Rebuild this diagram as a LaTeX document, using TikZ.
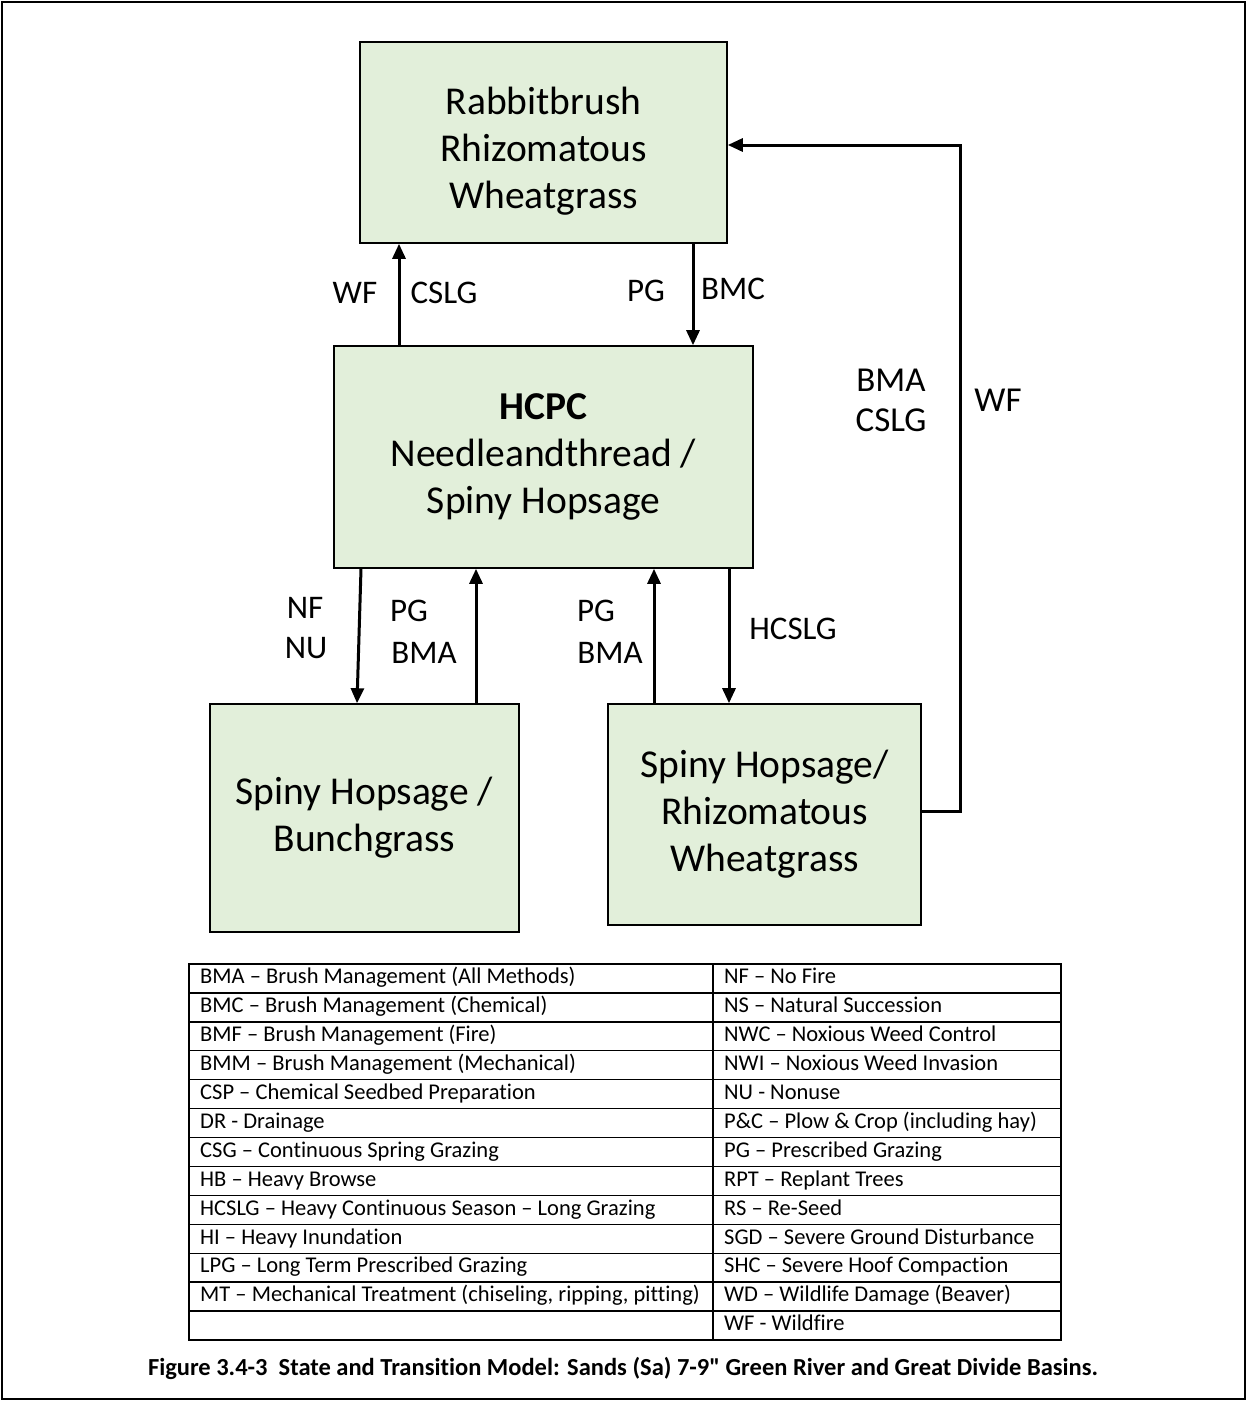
\documentclass[tikz,border=0pt]{standalone}
\usepackage{fontspec}
\setmainfont{Carlito}[Ligatures={TeXOff,NoCommon}]
\usetikzlibrary{arrows.meta}
\definecolor{statefill}{HTML}{E2EFDA}
\begin{document}
\begin{tikzpicture}[x=1pt,y=-1pt,
  statebox/.style={draw, line width=1.6pt, fill=statefill, inner sep=0pt},
  statetext/.style={align=center, font=\fontsize{39.5}{47}\selectfont},
  arr/.style={line width=3pt, -{Triangle[length=15pt,width=13pt]}},
  lbl/.style={font=\fontsize{33}{38}\selectfont, inner sep=0pt},
  lblw/.style={font=\fontsize{35}{40}\selectfont, inner sep=0pt},
  cell/.style={anchor=west, font=\fontsize{22.5}{26}\selectfont, inner sep=0pt},
  tline/.style={line width=1.4pt}]
\useasboundingbox (0,0) rectangle (1247,1401);
\draw[line width=1.4pt] (2,2) rectangle (1245,1399);

% states
\node[statebox, minimum width=367pt, minimum height=201pt] (top) at (543.5,142.5) {};
\node[statetext] (toptext) at (543.5,151) {Rabbitbrush\\Rhizomatous\\Wheatgrass};
\node[statebox, statetext, minimum width=419pt, minimum height=222pt] (hcpc) at (543.5,457)
  {\textbf{HCPC}\\Needleandthread /\\Spiny Hopsage};
\node[statebox, statetext, minimum width=309pt, minimum height=228pt] (bl) at (364.5,818)
  {Spiny Hopsage /\\Bunchgrass};
\node[statebox, statetext, minimum width=313pt, minimum height=221pt] (br) at (764.5,814.5)
  {Spiny Hopsage/\\Rhizomatous\\Wheatgrass};

% transition columns
\coordinate (c1) at (399,0);
\coordinate (c2) at (693,0);
\coordinate (c3a) at (361,0);
\coordinate (c3b) at (357,0);
\coordinate (c4) at (476,0);
\coordinate (c5) at (654,0);
\coordinate (c6) at (729,0);
\coordinate (r1) at (0,811);
\coordinate (r2) at (0,145);
\coordinate (bend1) at (960,811);
\coordinate (bend2) at (960,145);

\draw[arr] (hcpc.north -| c1) -- (top.south -| c1);
\draw[arr] (top.south -| c2) -- (hcpc.north -| c2);
\draw[arr] (hcpc.south -| c3a) -- (bl.north -| c3b);
\draw[arr] (bl.north -| c4) -- (hcpc.south -| c4);
\draw[arr] (br.north -| c5) -- (hcpc.south -| c5);
\draw[arr] (hcpc.south -| c6) -- (br.north -| c6);
\draw[arr, line join=miter] (br.east |- r1) -- (bend1) -- (bend2) -- (top.east |- r2);

% transition labels
\node[lbl] (l1) at (355,293) {WF};
\node[lbl] (l2) at (444,293) {CSLG};
\node[lbl] (l3) at (646,291) {PG};
\node[lbl] (l4) at (733,289) {BMC};
\node[lbl] (l5) at (305,608) {NF};
\node[lbl] (l6) at (306,648) {NU};
\node[lbl] (l7) at (409,611) {PG};
\node[lbl] (l8) at (424,653) {BMA};
\node[lbl] (l9) at (596,611) {PG};
\node[lbl] (l10) at (610,653) {BMA};
\node[lbl] (l11) at (793,629) {HCSLG};
\node[lblw] (l12) at (891,380) {BMA};
\node[lblw] (l13) at (891,420) {CSLG};
\node[lblw] (l14) at (998,400) {WF};

% legend table
\draw[tline] (189,964) rectangle (1061,1340);
\draw[tline] (713,964) -- (713,1340);
\foreach \i in {1,...,12} {
  \draw[tline] (189,964+28.923*\i) -- (1061,964+28.923*\i);
}
\foreach \t [count=\i from 0] in {%
  BMA – Brush Management (All Methods),
  BMC – Brush Management (Chemical),
  BMF – Brush Management (Fire),
  BMM – Brush Management (Mechanical),
  CSP – Chemical Seedbed Preparation,
  DR - Drainage,
  CSG – Continuous Spring Grazing,
  HB – Heavy Browse,
  HCSLG – Heavy Continuous Season – Long Grazing,
  HI – Heavy Inundation,
  LPG – Long Term Prescribed Grazing,
  {MT – Mechanical Treatment (chiseling, ripping, pitting)}} {
  \node[cell] (lt\i) at (200,978.5+28.923*\i) {\strut\t};
}
\foreach \t [count=\i from 0] in {%
  NF – No Fire,
  NS – Natural Succession,
  NWC – Noxious Weed Control,
  NWI – Noxious Weed Invasion,
  NU - Nonuse,
  P\&C – Plow \& Crop (including hay),
  PG – Prescribed Grazing,
  RPT – Replant Trees,
  RS – Re-Seed,
  SGD – Severe Ground Disturbance,
  SHC – Severe Hoof Compaction,
  WD – Wildlife Damage (Beaver),
  WF - Wildfire} {
  \node[cell] (rt\i) at (724,978.5+28.923*\i) {\strut\t};
}

% caption
\node[font=\bfseries\fontsize{24.5}{28}\selectfont, inner sep=0pt] (caption) at (623,1368)
  {Figure 3.4-3\ \ State and Transition Model: Sands (Sa) 7-9\symbol{34} Green River and Great Divide Basins.};
\end{tikzpicture}
\end{document}
